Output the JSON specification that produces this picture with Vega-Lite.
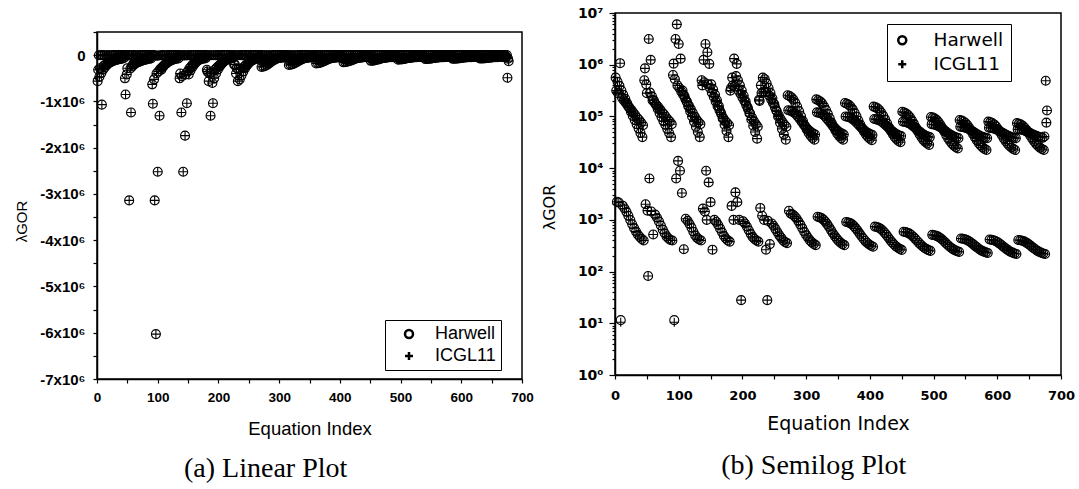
{
"$schema": "https://vega.github.io/schema/vega-lite/v6.json",
"padding": {"left": 13, "top": 5, "right": 3, "bottom": 3},
"background": "white",
"config": {
 "view": {"stroke": "black", "strokeWidth": 1.5},
 "axis": {"grid": false, "domainColor": "black", "domainWidth": 1.5, "tickColor": "black", "tickWidth": 1.2, "tickSize": 4, "labelColor": "black", "titleColor": "black", "labelFlush": false, "labelOverlap": false, "labelBound": false}
},
"datasets": {"gor": [
{"i":1,"v":562000},{"i":2,"v":316000},{"i":3,"v":2240},
{"i":4,"v":468000},{"i":5,"v":282000},{"i":6,"v":2160},
{"i":7,"v":389000},{"i":8,"v":1070000},{"i":9,"v":11.5,"s":"H"},{"i":9,"v":10.5,"s":"I"},
{"i":10,"v":316000},{"i":11,"v":229000},{"i":12,"v":1880},
{"i":13,"v":263000},{"i":14,"v":204000},{"i":15,"v":1660},
{"i":16,"v":219000},{"i":17,"v":182000},{"i":18,"v":1430},
{"i":19,"v":182000},{"i":20,"v":162000},{"i":21,"v":1200},
{"i":22,"v":151000},{"i":23,"v":145000},{"i":24,"v":995},
{"i":25,"v":123000},{"i":26,"v":132000},{"i":27,"v":822},
{"i":28,"v":102000},{"i":29,"v":117000},{"i":30,"v":692},
{"i":31,"v":85100},{"i":32,"v":105000},{"i":33,"v":593},
{"i":34,"v":70800},{"i":35,"v":93300},{"i":36,"v":516},
{"i":37,"v":58900},{"i":38,"v":85100},{"i":39,"v":466},
{"i":40,"v":47900},{"i":41,"v":75900},{"i":42,"v":427},
{"i":43,"v":39800},{"i":44,"v":67600},{"i":45,"v":398},
{"i":46,"v":501000},{"i":47,"v":850000},{"i":48,"v":2000},
{"i":49,"v":417000},{"i":50,"v":282000},{"i":51,"v":1510},
{"i":52,"v":82},{"i":53,"v":3140000},{"i":54,"v":6300},
{"i":55,"v":288000},{"i":56,"v":1240000},{"i":57,"v":1450},
{"i":58,"v":245000},{"i":59,"v":204000},{"i":60,"v":520},
{"i":61,"v":204000},{"i":62,"v":186000},{"i":63,"v":1260},
{"i":64,"v":170000},{"i":65,"v":166000},{"i":66,"v":1100},
{"i":67,"v":141000},{"i":68,"v":151000},{"i":69,"v":933},
{"i":70,"v":117000},{"i":71,"v":135000},{"i":72,"v":776},
{"i":73,"v":97700},{"i":74,"v":120000},{"i":75,"v":646},
{"i":76,"v":81300},{"i":77,"v":110000},{"i":78,"v":550},
{"i":79,"v":69200},{"i":80,"v":97700},{"i":81,"v":479},
{"i":82,"v":57500},{"i":83,"v":87100},{"i":84,"v":437},
{"i":85,"v":47900},{"i":86,"v":79400},{"i":87,"v":407},
{"i":88,"v":39800},{"i":89,"v":70800},{"i":90,"v":398},
{"i":91,"v":631000},{"i":92,"v":1050000},{"i":93,"v":11.5,"s":"H"},{"i":93,"v":10.5,"s":"I"},
{"i":94,"v":525000},{"i":95,"v":3140000},{"i":96,"v":6300},
{"i":97,"v":6030000},{"i":98,"v":398000},{"i":99,"v":13800},
{"i":100,"v":2520000},{"i":101,"v":355000},{"i":102,"v":8900},
{"i":103,"v":1310000},{"i":104,"v":302000},{"i":105,"v":3300},
{"i":106,"v":316000},{"i":107,"v":263000},{"i":108,"v":270},
{"i":109,"v":251000},{"i":110,"v":224000},{"i":111,"v":1050},
{"i":112,"v":200000},{"i":113,"v":191000},{"i":114,"v":955},
{"i":115,"v":158000},{"i":116,"v":162000},{"i":117,"v":832},
{"i":118,"v":126000},{"i":119,"v":138000},{"i":120,"v":708},
{"i":121,"v":100000},{"i":122,"v":117000},{"i":123,"v":589},
{"i":124,"v":79400},{"i":125,"v":100000},{"i":126,"v":501},
{"i":127,"v":63100},{"i":128,"v":87100},{"i":129,"v":447},
{"i":130,"v":50100},{"i":131,"v":77600},{"i":132,"v":417},
{"i":133,"v":39800},{"i":134,"v":70800},{"i":135,"v":398},
{"i":136,"v":501000},{"i":137,"v":398000},{"i":138,"v":1650},
{"i":139,"v":1240000},{"i":140,"v":457000},{"i":141,"v":1450},
{"i":142,"v":2520000},{"i":143,"v":8900},{"i":144,"v":1000},
{"i":145,"v":1740000},{"i":146,"v":417000},{"i":147,"v":5300},
{"i":148,"v":1040000},{"i":149,"v":355000},{"i":150,"v":2200},
{"i":151,"v":417000},{"i":152,"v":288000},{"i":153,"v":265},
{"i":154,"v":331000},{"i":155,"v":240000},{"i":156,"v":1000},
{"i":157,"v":263000},{"i":158,"v":195000},{"i":159,"v":912},
{"i":160,"v":204000},{"i":161,"v":158000},{"i":162,"v":794},
{"i":163,"v":158000},{"i":164,"v":132000},{"i":165,"v":676},
{"i":166,"v":120000},{"i":167,"v":110000},{"i":168,"v":575},
{"i":169,"v":91200},{"i":170,"v":93300},{"i":171,"v":490},
{"i":172,"v":69200},{"i":173,"v":81300},{"i":174,"v":437},
{"i":175,"v":52500},{"i":176,"v":74100},{"i":177,"v":398},
{"i":178,"v":39800},{"i":179,"v":67600},{"i":180,"v":380},
{"i":181,"v":316000},{"i":182,"v":355000},{"i":183,"v":1860},
{"i":184,"v":562000},{"i":185,"v":398000},{"i":186,"v":1000},
{"i":187,"v":1310000},{"i":188,"v":380000},{"i":189,"v":3400},
{"i":190,"v":603000},{"i":191,"v":1040000},{"i":192,"v":2200},
{"i":193,"v":501000},{"i":194,"v":316000},{"i":195,"v":1000},
{"i":196,"v":398000},{"i":197,"v":275000},{"i":198,"v":28},
{"i":199,"v":316000},{"i":200,"v":234000},{"i":201,"v":933},
{"i":202,"v":251000},{"i":203,"v":200000},{"i":204,"v":851},
{"i":205,"v":195000},{"i":206,"v":166000},{"i":207,"v":741},
{"i":208,"v":151000},{"i":209,"v":138000},{"i":210,"v":631},
{"i":211,"v":115000},{"i":212,"v":115000},{"i":213,"v":537},
{"i":214,"v":87100},{"i":215,"v":95500},{"i":216,"v":468},
{"i":217,"v":66100},{"i":218,"v":81300},{"i":219,"v":427},
{"i":220,"v":50100},{"i":221,"v":70800},{"i":222,"v":398},
{"i":223,"v":37200},{"i":224,"v":63100},{"i":225,"v":380},
{"i":226,"v":209000},{"i":227,"v":200000},{"i":228,"v":1700},
{"i":229,"v":398000},{"i":230,"v":282000},{"i":231,"v":1200},
{"i":232,"v":562000},{"i":233,"v":302000},{"i":234,"v":1000},
{"i":235,"v":525000},{"i":236,"v":295000},{"i":237,"v":265},
{"i":238,"v":437000},{"i":239,"v":28},{"i":240,"v":955},
{"i":241,"v":355000},{"i":242,"v":251000},{"i":243,"v":340},
{"i":244,"v":282000},{"i":245,"v":214000},{"i":246,"v":851},
{"i":247,"v":224000},{"i":248,"v":182000},{"i":249,"v":759},
{"i":250,"v":174000},{"i":251,"v":151000},{"i":252,"v":661},
{"i":253,"v":132000},{"i":254,"v":126000},{"i":255,"v":575},
{"i":256,"v":100000},{"i":257,"v":105000},{"i":258,"v":501},
{"i":259,"v":75900},{"i":260,"v":89100},{"i":261,"v":447},
{"i":262,"v":57500},{"i":263,"v":77600},{"i":264,"v":398},
{"i":265,"v":44700},{"i":266,"v":69200},{"i":267,"v":372},
{"i":268,"v":35500},{"i":269,"v":63100},{"i":270,"v":355},
{"i":271,"v":257000},{"i":274,"v":247000},{"i":277,"v":233000},{"i":280,"v":211000},{"i":283,"v":184000},{"i":286,"v":153000},{"i":289,"v":126000},{"i":292,"v":101000},{"i":295,"v":81500},{"i":298,"v":66800},{"i":301,"v":56000},{"i":304,"v":47800},{"i":307,"v":42400},{"i":310,"v":38400},{"i":313,"v":35500},
{"i":272,"v":132000},{"i":275,"v":129000},{"i":278,"v":125000},{"i":281,"v":118000},{"i":284,"v":110000},{"i":287,"v":99500},{"i":290,"v":89300},{"i":293,"v":79300},{"i":296,"v":70300},{"i":299,"v":63100},{"i":302,"v":57300},{"i":305,"v":52500},{"i":308,"v":49200},{"i":311,"v":46700},{"i":314,"v":44700},
{"i":273,"v":1500},{"i":276,"v":1310},{"i":279,"v":1260},{"i":282,"v":1170},{"i":285,"v":1060},{"i":288,"v":931},{"i":291,"v":807},{"i":294,"v":690},{"i":297,"v":589},{"i":300,"v":511},{"i":303,"v":450},{"i":306,"v":401},{"i":309,"v":368},{"i":312,"v":343},{"i":315,"v":324},
{"i":316,"v":214000},{"i":319,"v":206000},{"i":322,"v":195000},{"i":325,"v":179000},{"i":328,"v":157000},{"i":331,"v":134000},{"i":334,"v":112000},{"i":337,"v":91800},{"i":340,"v":75500},{"i":343,"v":63100},{"i":346,"v":53600},{"i":349,"v":46500},{"i":352,"v":41700},{"i":355,"v":38100},{"i":358,"v":35500},
{"i":317,"v":120000},{"i":320,"v":118000},{"i":323,"v":115000},{"i":326,"v":109000},{"i":329,"v":102000},{"i":332,"v":92900},{"i":335,"v":84100},{"i":338,"v":75500},{"i":341,"v":67800},{"i":344,"v":61400},{"i":347,"v":56100},{"i":350,"v":51900},{"i":353,"v":48900},{"i":356,"v":46500},{"i":359,"v":44700},
{"i":318,"v":1150},{"i":321,"v":1120},{"i":324,"v":1080},{"i":327,"v":1010},{"i":330,"v":927},{"i":333,"v":826},{"i":336,"v":728},{"i":339,"v":634},{"i":342,"v":551},{"i":345,"v":485},{"i":348,"v":434},{"i":351,"v":392},{"i":354,"v":363},{"i":357,"v":340},{"i":360,"v":324},
{"i":361,"v":182000},{"i":364,"v":176000},{"i":367,"v":167000},{"i":370,"v":154000},{"i":373,"v":137000},{"i":376,"v":118000},{"i":379,"v":100000},{"i":382,"v":83600},{"i":385,"v":69500},{"i":388,"v":58900},{"i":391,"v":50800},{"i":394,"v":44500},{"i":397,"v":40300},{"i":400,"v":37100},{"i":403,"v":34700},
{"i":362,"v":100000},{"i":365,"v":98400},{"i":368,"v":95900},{"i":371,"v":92000},{"i":374,"v":86900},{"i":377,"v":80500},{"i":380,"v":74100},{"i":383,"v":67800},{"i":386,"v":61800},{"i":389,"v":56900},{"i":392,"v":52800},{"i":395,"v":49400},{"i":398,"v":47000},{"i":401,"v":45200},{"i":404,"v":43700},
{"i":363,"v":912},{"i":366,"v":891},{"i":369,"v":863},{"i":372,"v":817},{"i":375,"v":755},{"i":378,"v":684},{"i":381,"v":612},{"i":384,"v":542},{"i":387,"v":481},{"i":390,"v":431},{"i":393,"v":389},{"i":396,"v":356},{"i":399,"v":334},{"i":402,"v":316},{"i":405,"v":302},
{"i":406,"v":155000},{"i":409,"v":150000},{"i":412,"v":143000},{"i":415,"v":132000},{"i":418,"v":118000},{"i":421,"v":103000},{"i":424,"v":87500},{"i":427,"v":73500},{"i":430,"v":61700},{"i":433,"v":52600},{"i":436,"v":45600},{"i":439,"v":40200},{"i":442,"v":36500},{"i":445,"v":33700},{"i":448,"v":31600},
{"i":407,"v":89100},{"i":410,"v":87700},{"i":413,"v":85900},{"i":416,"v":82600},{"i":419,"v":78300},{"i":422,"v":73100},{"i":425,"v":67800},{"i":428,"v":62400},{"i":431,"v":57400},{"i":434,"v":53200},{"i":437,"v":49700},{"i":440,"v":46800},{"i":443,"v":44700},{"i":446,"v":42900},{"i":449,"v":41700},
{"i":408,"v":741},{"i":411,"v":726},{"i":414,"v":705},{"i":417,"v":668},{"i":420,"v":622},{"i":423,"v":566},{"i":426,"v":511},{"i":429,"v":456},{"i":432,"v":406},{"i":435,"v":366},{"i":438,"v":334},{"i":441,"v":308},{"i":444,"v":289},{"i":447,"v":274},{"i":450,"v":263},
{"i":451,"v":123000},{"i":454,"v":119000},{"i":457,"v":114000},{"i":460,"v":106000},{"i":463,"v":95700},{"i":466,"v":83900},{"i":469,"v":72400},{"i":472,"v":61500},{"i":475,"v":52400},{"i":478,"v":45200},{"i":481,"v":39500},{"i":484,"v":35200},{"i":487,"v":32200},{"i":490,"v":29900},{"i":493,"v":28200},
{"i":452,"v":79400},{"i":455,"v":78300},{"i":458,"v":76700},{"i":461,"v":74100},{"i":464,"v":70600},{"i":467,"v":66400},{"i":470,"v":61900},{"i":473,"v":57400},{"i":476,"v":53200},{"i":479,"v":49700},{"i":482,"v":46700},{"i":485,"v":44200},{"i":488,"v":42400},{"i":491,"v":40900},{"i":494,"v":39800},
{"i":453,"v":589},{"i":456,"v":579},{"i":459,"v":565},{"i":462,"v":541},{"i":465,"v":509},{"i":468,"v":472},{"i":471,"v":434},{"i":474,"v":394},{"i":477,"v":359},{"i":480,"v":330},{"i":483,"v":305},{"i":486,"v":286},{"i":489,"v":272},{"i":492,"v":260},{"i":495,"v":251},
{"i":496,"v":97700},{"i":499,"v":95100},{"i":502,"v":91200},{"i":505,"v":84900},{"i":508,"v":76900},{"i":511,"v":67800},{"i":514,"v":58900},{"i":517,"v":50500},{"i":520,"v":43300},{"i":523,"v":37600},{"i":526,"v":33100},{"i":529,"v":29600},{"i":532,"v":27200},{"i":535,"v":25400},{"i":538,"v":24000},
{"i":497,"v":70800},{"i":500,"v":70000},{"i":503,"v":68700},{"i":506,"v":66500},{"i":509,"v":63700},{"i":512,"v":60300},{"i":515,"v":56600},{"i":518,"v":52800},{"i":521,"v":49300},{"i":524,"v":46300},{"i":527,"v":43900},{"i":530,"v":41700},{"i":533,"v":40200},{"i":536,"v":39000},{"i":539,"v":38000},
{"i":498,"v":513},{"i":501,"v":505},{"i":504,"v":494},{"i":507,"v":475},{"i":510,"v":451},{"i":513,"v":421},{"i":516,"v":390},{"i":519,"v":359},{"i":522,"v":330},{"i":525,"v":306},{"i":528,"v":286},{"i":531,"v":269},{"i":534,"v":257},{"i":537,"v":247},{"i":540,"v":240},
{"i":541,"v":85100},{"i":544,"v":82800},{"i":547,"v":79600},{"i":550,"v":74500},{"i":553,"v":67800},{"i":556,"v":60100},{"i":559,"v":52600},{"i":562,"v":45400},{"i":565,"v":39300},{"i":568,"v":34400},{"i":571,"v":30400},{"i":574,"v":27400},{"i":577,"v":25200},{"i":580,"v":23600},{"i":583,"v":22400},
{"i":542,"v":63100},{"i":545,"v":62500},{"i":548,"v":61500},{"i":551,"v":60000},{"i":554,"v":57900},{"i":557,"v":55300},{"i":560,"v":52600},{"i":563,"v":49800},{"i":566,"v":47000},{"i":569,"v":44700},{"i":572,"v":42800},{"i":575,"v":41000},{"i":578,"v":39800},{"i":581,"v":38800},{"i":584,"v":38000},
{"i":543,"v":437},{"i":546,"v":431},{"i":549,"v":423},{"i":552,"v":409},{"i":555,"v":391},{"i":558,"v":369},{"i":561,"v":346},{"i":564,"v":322},{"i":567,"v":301},{"i":570,"v":282},{"i":573,"v":265},{"i":576,"v":252},{"i":579,"v":243},{"i":582,"v":235},{"i":585,"v":229},
{"i":586,"v":79400},{"i":589,"v":77400},{"i":592,"v":74600},{"i":595,"v":70000},{"i":598,"v":64100},{"i":601,"v":57100},{"i":604,"v":50400},{"i":607,"v":43900},{"i":610,"v":38100},{"i":613,"v":33600},{"i":616,"v":30000},{"i":619,"v":27100},{"i":622,"v":25100},{"i":625,"v":23600},{"i":628,"v":22400},
{"i":587,"v":60300},{"i":590,"v":59700},{"i":593,"v":58900},{"i":596,"v":57500},{"i":599,"v":55700},{"i":602,"v":53500},{"i":605,"v":51000},{"i":608,"v":48500},{"i":611,"v":46100},{"i":614,"v":44100},{"i":617,"v":42300},{"i":620,"v":40700},{"i":623,"v":39600},{"i":626,"v":38700},{"i":629,"v":38000},
{"i":588,"v":417},{"i":591,"v":411},{"i":594,"v":404},{"i":597,"v":391},{"i":600,"v":373},{"i":603,"v":352},{"i":606,"v":330},{"i":609,"v":308},{"i":612,"v":287},{"i":615,"v":269},{"i":618,"v":254},{"i":621,"v":241},{"i":624,"v":232},{"i":627,"v":224},{"i":630,"v":219},
{"i":631,"v":74100},{"i":634,"v":72400},{"i":637,"v":69800},{"i":640,"v":65800},{"i":643,"v":60500},{"i":646,"v":54300},{"i":649,"v":48200},{"i":652,"v":42300},{"i":655,"v":37000},{"i":658,"v":32800},{"i":661,"v":29500},{"i":664,"v":26800},{"i":667,"v":24900},{"i":670,"v":23500},{"i":673,"v":22400},
{"i":632,"v":56200},{"i":635,"v":55800},{"i":638,"v":55200},{"i":641,"v":54100},{"i":644,"v":52600},{"i":647,"v":50800},{"i":650,"v":48900},{"i":653,"v":46800},{"i":656,"v":44800},{"i":659,"v":43100},{"i":662,"v":41600},{"i":665,"v":40400},{"i":668,"v":39400},{"i":671,"v":38600},{"i":674,"v":41000},
{"i":633,"v":407},{"i":636,"v":403},{"i":639,"v":395},{"i":642,"v":383},{"i":645,"v":366},{"i":648,"v":347},{"i":651,"v":326},{"i":654,"v":304},{"i":657,"v":284},{"i":660,"v":267},{"i":663,"v":252},{"i":666,"v":240},{"i":669,"v":231},{"i":672,"v":224},{"i":675,"v":219},
{"i":676,"v":490000},{"i":677,"v":76000},{"i":678,"v":130000}
]},
"hconcat": [
 {"vconcat": [
  {"width": 425, "height": 5, "data": {"values": [{"a": 1}]}, "mark": {"type": "point", "opacity": 0}, "encoding": {}, "view": {"stroke": null}},
  {"width": 425, "height": 347,
   "data": {"name": "gor"},
   "title": {"text": "(a) Linear Plot", "orient": "bottom", "frame": "bounds", "font": "Liberation Serif", "fontSize": 28, "fontWeight": "normal", "color": "black", "offset": 17, "anchor": "middle", "dx": -8},
   "encoding": {
    "x": {"field": "i", "type": "quantitative", "scale": {"domain": [0, 700], "nice": false},
     "axis": {"values": [0,50,100,150,200,250,300,350,400,450,500,550,600,650,700], "labelExpr": "datum.value % 100 == 0 ? datum.label : ''", "labelFont": "Liberation Sans", "labelFontWeight": "bold", "labelFontSize": 13.5, "labelPadding": 7, "title": "Equation Index", "titleFont": "Liberation Sans", "titleFontSize": 18.5, "titleFontWeight": "normal", "titlePadding": 16}},
    "y": {"field": "v", "type": "quantitative", "scale": {"domain": [-500000, 7000000], "reverse": true, "nice": false, "zero": false},
     "axis": {"values": [-500000,0,500000,1000000,1500000,2000000,2500000,3000000,3500000,4000000,4500000,5000000,5500000,6000000,6500000,7000000], "labelExpr": "datum.value == 0 ? '0' : (datum.value % 1000000 == 0 ? '-' + (datum.value / 1000000) + 'x10⁶' : '')", "labelFont": "Liberation Sans", "labelFontWeight": "bold", "labelFontSize": 15, "labelPadding": 8, "title": "λGOR", "titleFont": "Liberation Sans", "titleFontSize": 15, "titleFontWeight": "normal", "titleX": -68, "titleY": 189}}
   },
   "layer": [
    {"transform": [{"filter": "datum.s != 'I'"}], "mark": {"type": "point", "filled": false, "color": "black", "strokeWidth": 1.1, "size": 81, "opacity": 1},
     "encoding": {"shape": {"datum": "Harwell", "scale": {"domain": ["Harwell", "ICGL11"], "range": ["circle", "M-1,0H1M0,-1V1"]},
      "legend": {"title": null, "orient": "none", "legendX": 288, "legendY": 307, "strokeColor": "black", "fillColor": "white", "padding": 5, "rowPadding": 4, "labelFont": "Liberation Sans", "labelFontSize": 18, "labelColor": "black", "symbolStrokeWidth": 2.5, "symbolSize": 64, "symbolStrokeColor": "black", "symbolOffset": 10, "labelOffset": 17}}}},
    {"transform": [{"filter": "datum.s != 'H'"}], "mark": {"type": "point", "filled": false, "color": "black", "strokeWidth": 1.1, "size": 81, "opacity": 1},
     "encoding": {"shape": {"datum": "ICGL11"}}}
   ]
  }
 ], "spacing": 5},
 {"width": 446, "height": 362,
  "data": {"name": "gor"},
  "title": {"text": "(b) Semilog Plot", "orient": "bottom", "frame": "bounds", "font": "Liberation Serif", "fontSize": 28, "fontWeight": "normal", "color": "black", "offset": 19, "anchor": "middle", "dx": 6},
  "encoding": {
   "x": {"field": "i", "type": "quantitative", "scale": {"domain": [0, 700], "nice": false},
    "axis": {"values": [0,50,100,150,200,250,300,350,400,450,500,550,600,650,700], "labelExpr": "datum.value % 100 == 0 ? datum.label : ''", "labelFont": "DejaVu Sans", "labelFontWeight": "bold", "labelFontSize": 13, "labelPadding": 10, "title": "Equation Index", "titleFont": "DejaVu Sans", "titleFontSize": 19, "titleFontWeight": "normal", "titlePadding": 12}},
   "y": {"field": "v", "type": "quantitative", "scale": {"type": "log", "domain": [1, 10000000], "nice": false},
    "axis": {"values": [1,2,3,4,5,6,7,8,9,10,20,30,40,50,60,70,80,90,100,200,300,400,500,600,700,800,900,1000,2000,3000,4000,5000,6000,7000,8000,9000,10000,20000,30000,40000,50000,60000,70000,80000,90000,100000,200000,300000,400000,500000,600000,700000,800000,900000,1000000,2000000,3000000,4000000,5000000,6000000,7000000,8000000,9000000,10000000],
     "labelExpr": "abs(log(datum.value)/LN10 - round(log(datum.value)/LN10)) < 0.001 ? '10' + ['⁰','¹','²','³','⁴','⁵','⁶','⁷'][round(log(datum.value)/LN10)] : ''",
     "tickSize": {"condition": {"test": "abs(log(datum.value)/LN10 - round(log(datum.value)/LN10)) < 0.001", "value": 6}, "value": 3},
     "labelFont": "DejaVu Sans", "labelFontWeight": "bold", "labelFontSize": 14, "labelPadding": 6, "title": "λGOR", "titleFont": "DejaVu Sans", "titleFontSize": 16, "titleFontWeight": "normal", "titleX": -58, "titleY": 194}}
  },
  "layer": [
   {"transform": [{"filter": "datum.s != 'I'"}], "mark": {"type": "point", "filled": false, "color": "black", "strokeWidth": 1.1, "size": 81, "opacity": 1},
    "encoding": {"shape": {"datum": "Harwell", "scale": {"domain": ["Harwell", "ICGL11"], "range": ["circle", "M-1,0H1M0,-1V1"]},
     "legend": {"title": null, "orient": "none", "legendX": 272, "legendY": 11, "strokeColor": "black", "fillColor": "white", "padding": 7, "rowPadding": 5, "labelFont": "DejaVu Sans", "labelFontSize": 18.5, "labelColor": "black", "symbolStrokeWidth": 2.5, "symbolSize": 64, "symbolStrokeColor": "black", "symbolOffset": -1, "labelOffset": 22}}}},
   {"transform": [{"filter": "datum.s != 'H'"}], "mark": {"type": "point", "filled": false, "color": "black", "strokeWidth": 1.1, "size": 81, "opacity": 1},
    "encoding": {"shape": {"datum": "ICGL11"}}}
  ]
 }
],
"spacing": 5,
"resolve": {"scale": {"shape": "independent"}, "legend": {"shape": "independent"}}
}
